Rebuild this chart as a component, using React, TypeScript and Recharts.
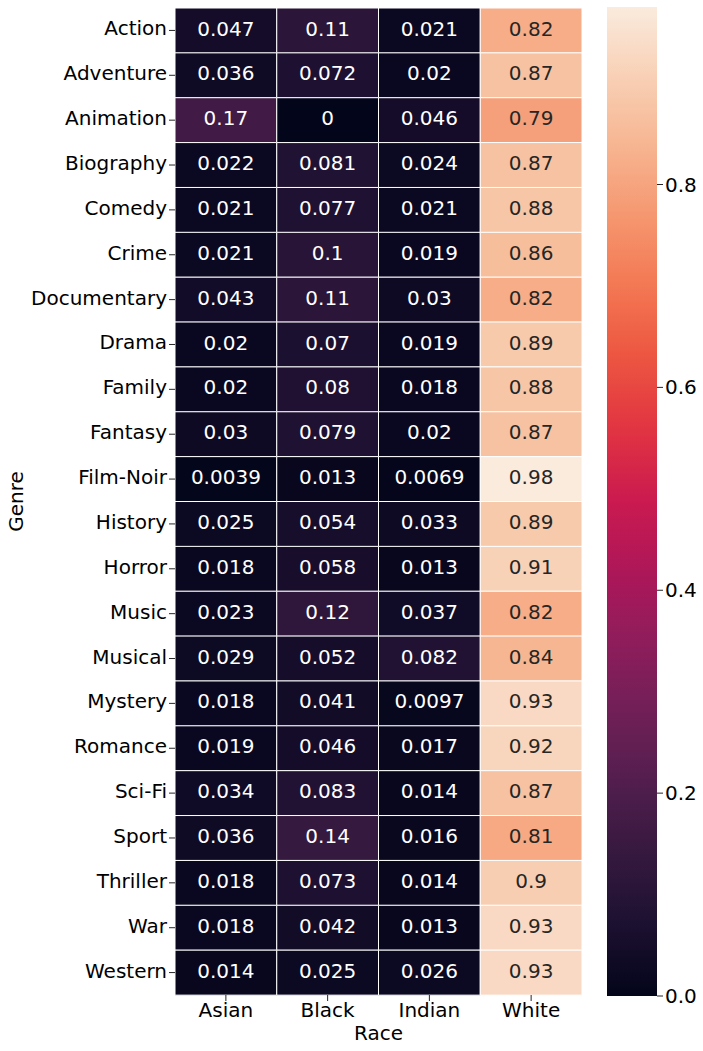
import { BarChart, Bar, XAxis, YAxis, Cell, LabelList, Label } from 'recharts'

const genres = ['Action', 'Adventure', 'Animation', 'Biography', 'Comedy', 'Crime', 'Documentary', 'Drama', 'Family', 'Fantasy', 'Film-Noir', 'History', 'Horror', 'Music', 'Musical', 'Mystery', 'Romance', 'Sci-Fi', 'Sport', 'Thriller', 'War', 'Western']
const races = ['Asian', 'Black', 'Indian', 'White']

const asian = [0.047, 0.036, 0.17, 0.022, 0.021, 0.021, 0.043, 0.02, 0.02, 0.03, 0.0039, 0.025, 0.018, 0.023, 0.029, 0.018, 0.019, 0.034, 0.036, 0.018, 0.018, 0.014]
const black = [0.11, 0.072, 0, 0.081, 0.077, 0.1, 0.11, 0.07, 0.08, 0.079, 0.013, 0.054, 0.058, 0.12, 0.052, 0.041, 0.046, 0.083, 0.14, 0.073, 0.042, 0.025]
const indian = [0.021, 0.02, 0.046, 0.024, 0.021, 0.019, 0.03, 0.019, 0.018, 0.02, 0.0069, 0.033, 0.013, 0.037, 0.082, 0.0097, 0.017, 0.014, 0.016, 0.014, 0.013, 0.026]
const white = [0.82, 0.87, 0.79, 0.87, 0.88, 0.86, 0.82, 0.89, 0.88, 0.87, 0.98, 0.89, 0.91, 0.82, 0.84, 0.93, 0.92, 0.87, 0.81, 0.9, 0.93, 0.93]

const colorbarTicks = [0, 0.2, 0.4, 0.6, 0.8]
const vmax = 0.975

// rocket colormap, sampled
const rocket: [number, string][] = [
  [0, '#03051a'],
  [0.071, '#1c1030'],
  [0.143, '#35193e'],
  [0.214, '#511e4d'],
  [0.286, '#701f57'],
  [0.357, '#8e1d5b'],
  [0.429, '#ad1759'],
  [0.5, '#ca1a50'],
  [0.571, '#e13342'],
  [0.643, '#ec5440'],
  [0.714, '#f37651'],
  [0.786, '#f5966f'],
  [0.857, '#f6b48f'],
  [0.929, '#f8d0b5'],
  [1, '#faebdd'],
]

function hex(c: string) {
  return [1, 3, 5].map((i) => parseInt(c.slice(i, i + 2), 16))
}

function rocketColor(t: number) {
  t = Math.max(0, Math.min(1, t))
  for (let i = 1; i < rocket.length; i++) {
    const [t1, c1] = rocket[i]
    const [t0, c0] = rocket[i - 1]
    if (t <= t1) {
      const f = (t - t0) / (t1 - t0)
      const a = hex(c0)
      const b = hex(c1)
      const m = a.map((v, k) => Math.round(v + (b[k] - v) * f))
      return `rgb(${m[0]},${m[1]},${m[2]})`
    }
  }
  return rocket[rocket.length - 1][1]
}

const cols: Record<string, number[]> = { Asian: asian, Black: black, Indian: indian, White: white }

const data = genres.map((g, i) => ({
  genre: g,
  Asian: asian[i],
  Black: black[i],
  Indian: indian[i],
  White: white[i],
}))

const font = 'DejaVu Sans, sans-serif'

function cellLabel(race: string) {
  return (props: any) => {
    const { x, y, width, height, index } = props
    const v = cols[race][index]
    return (
      <text
        x={x + width / 2}
        y={y + height / 2 - 2}
        textAnchor="middle"
        dominantBaseline="central"
        fontSize={20}
        fontFamily={font}
        fill={v / vmax > 0.6 ? '#262626' : '#ffffff'}
      >
        {String(v)}
      </text>
    )
  }
}

const GenreTick = (props: any) => {
  const { x, y, payload } = props
  return (
    <text x={x} y={y - 2} textAnchor="end" dominantBaseline="central" fontSize={20} fontFamily={font} fill="#000">
      {payload.value}
    </text>
  )
}

const RaceTick = (props: any) => {
  const { x, y, payload } = props
  return (
    <text x={x} y={y + 7} textAnchor="middle" dominantBaseline="central" fontSize={20} fontFamily={font} fill="#000">
      {races[Math.floor(payload.value)]}
    </text>
  )
}

export default function App() {
  return (
    <div style={{ position: 'absolute', left: 0, top: 0, width: 703, height: 1051, background: '#fff', fontFamily: font }}>
      <div style={{ position: 'absolute', left: 0, top: 0 }}>
        <BarChart
          width={590}
          height={1051}
          data={data}
          layout="vertical"
          barCategoryGap={0}
          margin={{ top: 8, right: 8, bottom: 0, left: 0 }}
        >
          <XAxis
            type="number"
            domain={[0, 4]}
            ticks={[0.5, 1.5, 2.5, 3.5]}
            height={56}
            axisLine={false}
            tickSize={6}
            tickLine={{ stroke: '#262626' }}
            tick={<RaceTick />}
            interval={0}
          >
            <Label value="Race" position="insideBottom" offset={11} style={{ fontSize: 20, fill: '#000', fontFamily: font }} />
          </XAxis>
          <YAxis
            type="category"
            dataKey="genre"
            width={175}
            axisLine={false}
            tickSize={6}
            tickLine={{ stroke: '#262626' }}
            tick={<GenreTick />}
            interval={0}
          >
            <Label value="Genre" angle={-90} position="insideLeft" offset={16} style={{ fontSize: 20, fill: '#000', fontFamily: font, textAnchor: 'middle' }} />
          </YAxis>
          {races.map((r) => (
            <Bar key={r} dataKey={() => 1} stackId="a" stroke="#ffffff" strokeWidth={1} isAnimationActive={false}>
              {cols[r].map((v, i) => (
                <Cell key={i} fill={rocketColor(v / vmax)} />
              ))}
              <LabelList dataKey={r} content={cellLabel(r)} />
            </Bar>
          ))}
        </BarChart>
      </div>
      <div style={{ position: 'absolute', left: 607, top: 0 }}>
        <BarChart
          width={96}
          height={1051}
          data={[{ name: 'cb', value: vmax }]}
          barCategoryGap={0}
          margin={{ top: 7, right: 0, bottom: 55, left: 0 }}
        >
          <defs>
            <linearGradient id="rocketGrad" x1="0" y1="1" x2="0" y2="0">
              {Array.from({ length: 41 }, (_, k) => (
                <stop key={k} offset={`${(k / 40) * 100}%`} stopColor={rocketColor(k / 40)} />
              ))}
            </linearGradient>
          </defs>
          <XAxis dataKey="name" hide />
          <YAxis
            orientation="right"
            domain={[0, vmax]}
            ticks={colorbarTicks}
            tickFormatter={(v: number) => v.toFixed(1)}
            width={46}
            axisLine={false}
            tickSize={6}
            tickLine={{ stroke: '#262626' }}
            tick={{ fontSize: 20, fill: '#000', fontFamily: font }}
            interval={0}
          />
          <Bar dataKey="value" fill="url(#rocketGrad)" isAnimationActive={false} />
        </BarChart>
      </div>
    </div>
  )
}
